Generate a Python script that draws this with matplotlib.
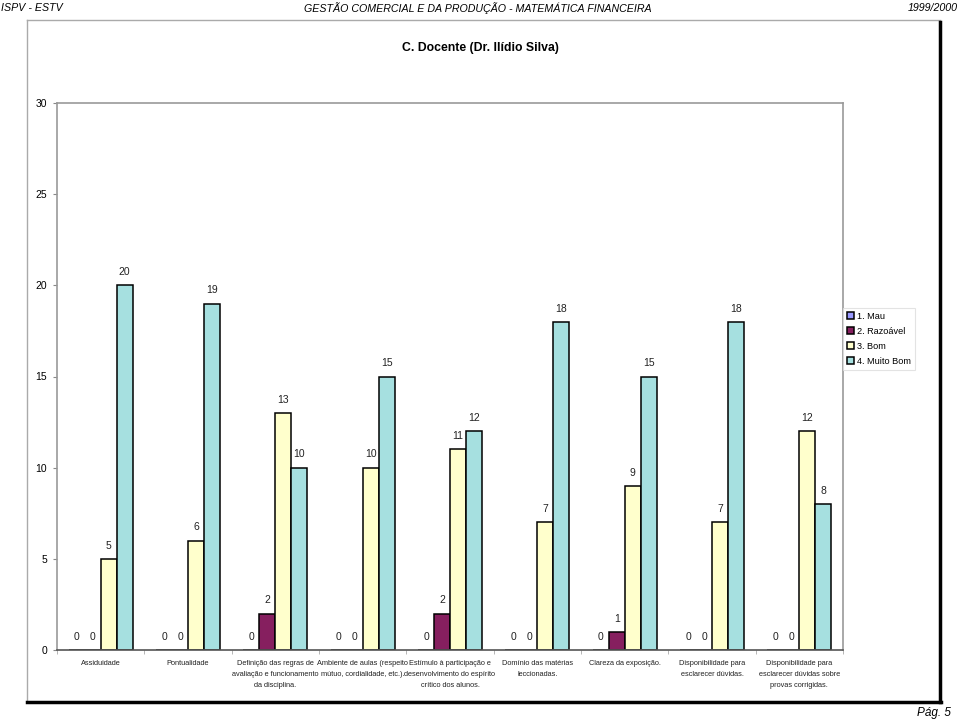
import numpy as np
import matplotlib
matplotlib.use("Agg")
import matplotlib.pyplot as plt
from matplotlib.lines import Line2D

plt.rcParams["font.family"] = ["Liberation Sans", "DejaVu Sans"]

categories = [
    "Assiduidade",
    "Pontualidade",
    "Definição das regras de\navaliação e funcionamento\nda disciplina.",
    "Ambiente de aulas (respeito\nmútuo, cordialidade, etc.).",
    "Estímulo à participação e\ndesenvolvimento do espírito\ncrítico dos alunos.",
    "Domínio das matérias\nleccionadas.",
    "Clareza da exposição.",
    "Disponibilidade para\nesclarecer dúvidas.",
    "Disponibilidade para\nesclarecer dúvidas sobre\nprovas corrigidas.",
]
mau = [0, 0, 0, 0, 0, 0, 0, 0, 0]
razoavel = [0, 0, 2, 0, 2, 0, 1, 0, 0]
bom = [5, 6, 13, 10, 11, 7, 9, 7, 12]
muito_bom = [20, 19, 10, 15, 12, 18, 15, 18, 8]

series = [("1. Mau", mau, "#9999FF"),
          ("2. Razoável", razoavel, "#861F5F"),
          ("3. Bom", bom, "#FFFFCC"),
          ("4. Muito Bom", muito_bom, "#A6E0E0")]

fig = plt.figure(figsize=(9.6, 7.21), dpi=100)
ax = fig.add_axes([57 / 960, 1 - 650 / 721, 786 / 960, 547 / 721])

x = np.arange(len(categories))
w = 0.183
for i, (name, vals, col) in enumerate(series):
    pos = x + (i - 2) * w
    ax.bar(pos, vals, width=w, align="edge", color=col,
           edgecolor="black", linewidth=1.1, label=name)
    for p, v in zip(pos, vals):
        ax.text(p + w / 2, v + 0.45, str(v), ha="center", va="bottom",
                fontsize=7.5, color="#222222")

ax.set_xlim(-0.5, len(categories) - 0.5)
ax.set_ylim(0, 30)
ax.set_yticks([0, 5, 10, 15, 20, 25, 30])
ax.tick_params(axis="y", labelsize=7.5, length=3, color="#888888", pad=4)
ax.set_xticks(x)
ax.set_xticklabels(categories, fontsize=5.3, linespacing=1.85, color="#222222")
ax.tick_params(axis="x", length=0, pad=7)
ax.set_xticks(np.arange(len(categories) + 1) - 0.5, minor=True)
ax.tick_params(axis="x", which="minor", length=3, color="#aaaaaa")
for s in ["top", "right", "left"]:
    ax.spines[s].set_color("#999999")
    ax.spines[s].set_linewidth(1.2)
ax.spines["bottom"].set_color("#555555")
ax.spines["bottom"].set_linewidth(1.2)

leg = ax.legend(loc="upper left", bbox_to_anchor=(1.0, 0.626), fontsize=6.6,
                frameon=True, fancybox=False, handlelength=0.8,
                handleheight=0.8, handletextpad=0.3, borderpad=0.45,
                labelspacing=0.65, borderaxespad=0)
leg.get_frame().set_edgecolor("#dddddd")
leg.get_frame().set_linewidth(0.8)

fig.text(0.5, 1 - 48 / 721, "C. Docente (Dr. Ilídio Silva)", ha="center",
         va="center", fontsize=8.8, fontweight="bold")

# header and footer
fig.text(0.001, 1 - 8 / 721, "ISPV - ESTV", ha="left", va="center",
         fontsize=7.7, style="italic")
fig.text(0.498, 1 - 8 / 721,
         "GESTÃO COMERCIAL E DA PRODUÇÃO - MATEMÁTICA FINANCEIRA",
         ha="center", va="center", fontsize=7.7, style="italic")
fig.text(0.998, 1 - 8 / 721, "1999/2000", ha="right", va="center",
         fontsize=7.7, style="italic")
fig.text(0.99, 1 - 713 / 721, "Pág. 5", ha="right", va="center",
         fontsize=8.5, style="italic")

# outer frame with shadow
def fx(px):
    return px / 960


def fy(py):
    return 1 - py / 721


fig.add_artist(Line2D([fx(27), fx(27)], [fy(20), fy(702)], color="#aaaaaa", lw=1))
fig.add_artist(Line2D([fx(27), fx(940)], [fy(20), fy(20)], color="#aaaaaa", lw=1))
fig.add_artist(Line2D([fx(940), fx(940)], [fy(22), fy(702)], color="black", lw=2.5))
fig.add_artist(Line2D([fx(27), fx(941)], [fy(702), fy(702)], color="black", lw=2.5))

fig.savefig("out.png", dpi=100)
